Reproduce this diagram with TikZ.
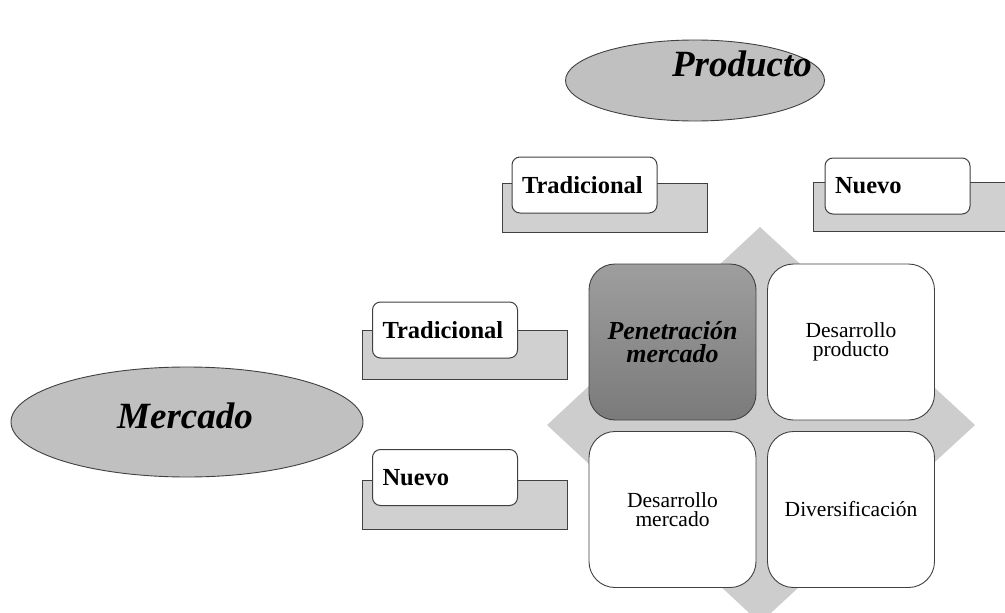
\documentclass[tikz,border=0pt]{standalone}
\usepackage{fontspec}
\setmainfont{Liberation Serif}
\usetikzlibrary{shapes.geometric}
\definecolor{ovalgray}{HTML}{C0C0C0}
\definecolor{tabgray}{HTML}{D0D0D0}
\definecolor{diagray}{HTML}{CDCDCD}
\definecolor{edgegray}{HTML}{404040}

\begin{document}
\begin{tikzpicture}[x=1pt,y=-1pt,
    oval/.style={ellipse,draw=edgegray,fill=ovalgray,line width=0.9pt,inner sep=0pt},
    ovaltext/.style={font=\fontsize{37}{40}\selectfont\bfseries\itshape},
    tabback/.style={rectangle,draw=edgegray,fill=tabgray,line width=1pt,minimum width=205pt,minimum height=49pt,inner sep=0pt},
    tabfront/.style={rectangle,rounded corners=8pt,draw=edgegray,fill=white,line width=1pt,minimum height=56pt,text width=125pt,align=left,inner xsep=10pt,font=\fontsize{24.5}{27}\selectfont\bfseries},
    quad/.style={rectangle,rounded corners=26pt,draw=edgegray,fill=white,line width=0.9pt,minimum width=167pt,minimum height=156pt,align=center,font=\fontsize{21.5}{19.5}\selectfont}]
        \clip (0,0) rectangle (1005,613);
        % ovals
        \node[oval,minimum width=259pt,minimum height=81pt] (prod) at (695,80.5) {};
        \node[ovaltext] (prodtxt) at (742,64) {Producto};
        \node[oval,minimum width=352pt,minimum height=110pt] (merc) at (187,422) {};
        \node[ovaltext] (merctxt) at (185,416) {Mercado};
        % tabs
        \node[tabback] (tradtopb) at (604.5,207.5) {};
        \node[tabfront] (tradtop) at (584.5,185) {Tradicional};
        \node[tabback] (nuevotopb) at (915.5,207) {};
        \node[tabfront] (nuevotop) at (897.5,186) {Nuevo};
        \node[tabback] (tradleftb) at (464.5,355) {};
        \node[tabfront] (tradleft) at (445,330) {Tradicional};
        \node[tabback] (nuevoleftb) at (464.5,505) {};
        \node[tabfront] (nuevoleft) at (445,477.5) {Nuevo};
        % matrix
        \fill[diagray] (760,227) -- (975,425) -- (760,623) -- (547,425) -- cycle;
        \node[quad,top color=black!38,bottom color=black!52,font=\fontsize{26}{23.5}\selectfont\bfseries\itshape] (penet) at (672.5,342) {Penetración\\mercado};
        \node[quad] (desprod) at (851,342) {Desarrollo\\producto};
        \node[quad] (desmerc) at (672.5,509.5) {Desarrollo\\mercado};
        \node[quad] (divers) at (851,509.5) {Diversificación};
\end{tikzpicture}
\end{document}
